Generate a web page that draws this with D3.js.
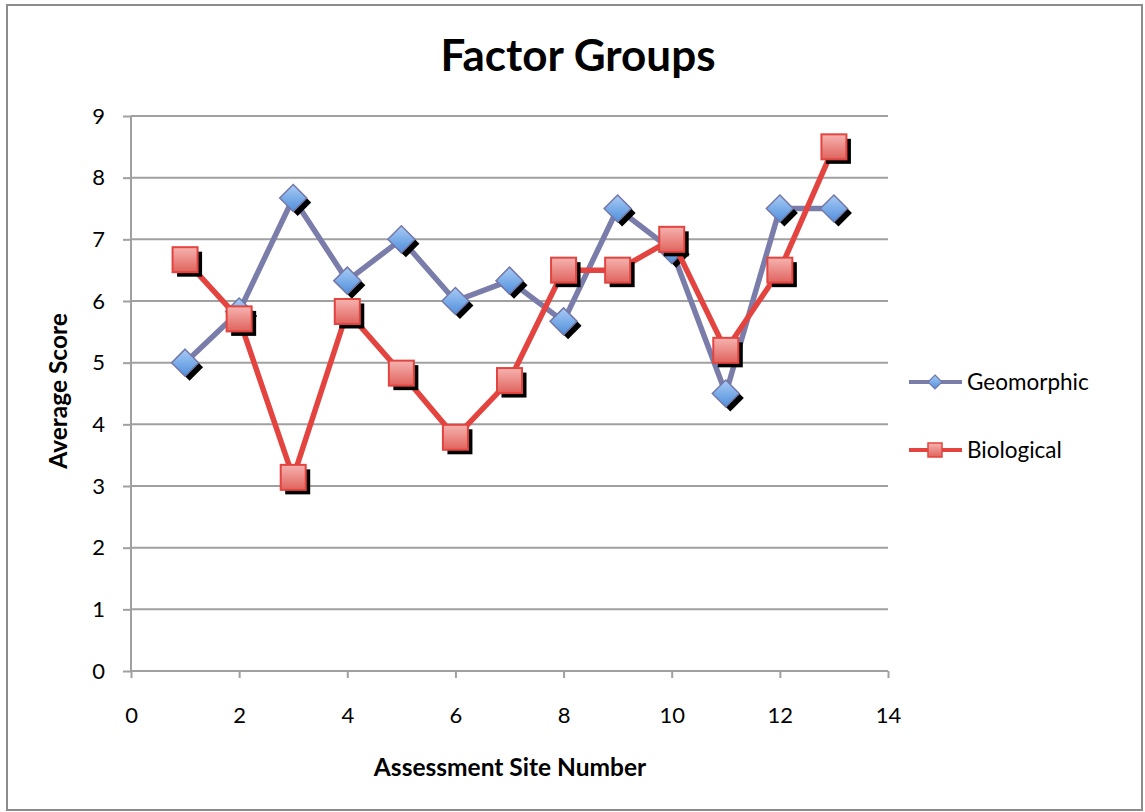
<!DOCTYPE html>
<html><head><meta charset="utf-8">
<script src="https://cdn.jsdelivr.net/npm/d3@7"></script>
<style>body{margin:0;background:#fff}svg{display:block}text{font-family:Lato,"Open Sans",sans-serif}</style>
</head><body>
<svg id="c" width="1145" height="812"></svg>
<script>
const sites = [1,2,3,4,5,6,7,8,9,10,11,12,13];
const geomorphic = [5.0,5.83,7.67,6.33,7.0,6.0,6.33,5.67,7.5,6.83,4.5,7.5,7.5];
const biological = [6.67,5.71,3.14,5.83,4.83,3.79,4.71,6.5,6.5,7.0,5.2,6.5,8.5];
const xTicks = [0,2,4,6,8,10,12,14];
const yTicks = [0,1,2,3,4,5,6,7,8,9];
const seriesNames = ["Geomorphic","Biological"];

const svg = d3.select("#c");
svg.append("rect").attr("x",7).attr("y",5).attr("width",1135).attr("height",805)
  .attr("fill","#fff").attr("stroke","#8c8c8c").attr("stroke-width",2);

const defs = svg.append("defs");
const gB = defs.append("linearGradient").attr("id","gBlue").attr("x1",0).attr("y1",0).attr("x2",0).attr("y2",1);
gB.append("stop").attr("offset","0%").attr("stop-color","#a9cbf5");
gB.append("stop").attr("offset","100%").attr("stop-color","#4f8fdc");
const gR = defs.append("linearGradient").attr("id","gRed").attr("x1",0).attr("y1",0).attr("x2",0).attr("y2",1);
gR.append("stop").attr("offset","0%").attr("stop-color","#f6b3b0");
gR.append("stop").attr("offset","100%").attr("stop-color","#e0635d");

const x = d3.scaleLinear().domain([0,14]).range([131,888]);
const y = d3.scaleLinear().domain([0,9]).range([671,116]);

// gridlines
svg.append("g").selectAll("line").data(yTicks).join("line")
  .attr("x1",x(0)).attr("x2",x(14)).attr("y1",d=>y(d)).attr("y2",d=>y(d))
  .attr("stroke","#a0a0a0").attr("stroke-width",2);

const yAxis = svg.append("g").attr("transform",`translate(${x(0)},0)`)
  .call(d3.axisLeft(y).tickValues(yTicks).tickSize(8).tickPadding(18));
const xAxis = svg.append("g").attr("transform",`translate(0,${y(0)})`)
  .call(d3.axisBottom(x).tickValues(xTicks).tickSize(7).tickPadding(29));
[yAxis,xAxis].forEach(a=>{
  a.select(".domain").attr("stroke","#a0a0a0").attr("stroke-width",2);
  a.selectAll(".tick line").attr("stroke","#a0a0a0").attr("stroke-width",2);
  a.selectAll("text").attr("font-size",22).attr("fill","#000").attr("font-family","Lato");
});
xAxis.select(".domain").attr("d",`M${x(0)},0H${x(14)}`);
yAxis.select(".domain").attr("d",`M0,${y(0)}V${y(9)}`);

const line = d3.line().x((d,i)=>x(sites[i])).y(d=>y(d));
const cfg = [
  {data:geomorphic, color:"#7a7daa", fill:"url(#gBlue)", stroke:"#7478a8", shape:"diamond"},
  {data:biological, color:"#e3443f", fill:"url(#gRed)", stroke:"#e3443f", shape:"square"}
];
function marker(g, shape, cx, cy, fill, stroke, shadow){
  const o = shadow ? 4.5 : 0;
  if(shape==="diamond"){
    const r = 13.5;
    g.append("path").attr("d",`M${cx+o},${cy+o-r}L${cx+o+r},${cy+o}L${cx+o},${cy+o+r}L${cx+o-r},${cy+o}Z`)
      .attr("fill",shadow?"#000":fill).attr("stroke",shadow?"#000":stroke).attr("stroke-width",shadow?0:1.5);
  } else {
    const s = 25;
    g.append("rect").attr("x",cx+o-s/2).attr("y",cy+o-s/2).attr("width",s).attr("height",s)
      .attr("fill",shadow?"#000":fill).attr("stroke",shadow?"#000":stroke).attr("stroke-width",shadow?0:2);
  }
}
cfg.forEach(c=>{
  const g = svg.append("g");
  g.append("path").datum(c.data).attr("d",line).attr("fill","none")
    .attr("stroke",c.color).attr("stroke-width",5.5).attr("stroke-linejoin","round");
  c.data.forEach((v,i)=>marker(g,c.shape,x(sites[i]),y(v),c.fill,c.stroke,true));
  c.data.forEach((v,i)=>marker(g,c.shape,x(sites[i]),y(v),c.fill,c.stroke,false));
});

// legend
const legY = [382,450];
cfg.forEach((c,i)=>{
  const g = svg.append("g");
  g.append("line").attr("x1",909).attr("x2",962).attr("y1",legY[i]).attr("y2",legY[i])
    .attr("stroke",c.color).attr("stroke-width",4);
  if(c.shape==="diamond"){
    const r=7,cx=935,cy=legY[i];
    g.append("path").attr("d",`M${cx},${cy-r}L${cx+r},${cy}L${cx},${cy+r}L${cx-r},${cy}Z`)
      .attr("fill",c.fill).attr("stroke",c.stroke).attr("stroke-width",1.2);
  } else {
    g.append("rect").attr("x",935-7).attr("y",legY[i]-7).attr("width",14).attr("height",14)
      .attr("fill",c.fill).attr("stroke",c.stroke).attr("stroke-width",1.5);
  }
  g.append("text").attr("x",967).attr("y",legY[i]).attr("dy","0.35em")
    .attr("font-size",22.5).text(seriesNames[i]);
});

svg.append("text").attr("x",578).attr("y",71).attr("text-anchor","middle")
  .attr("font-size",44).attr("font-weight","bold").text("Factor Groups");
svg.append("text").attr("transform","translate(67,391) rotate(-90)").attr("text-anchor","middle")
  .attr("font-size",24.5).attr("font-weight","bold").text("Average Score");
svg.append("text").attr("x",510).attr("y",776).attr("text-anchor","middle")
  .attr("font-size",24.5).attr("font-weight","bold").text("Assessment Site Number");
</script>
</body></html>
